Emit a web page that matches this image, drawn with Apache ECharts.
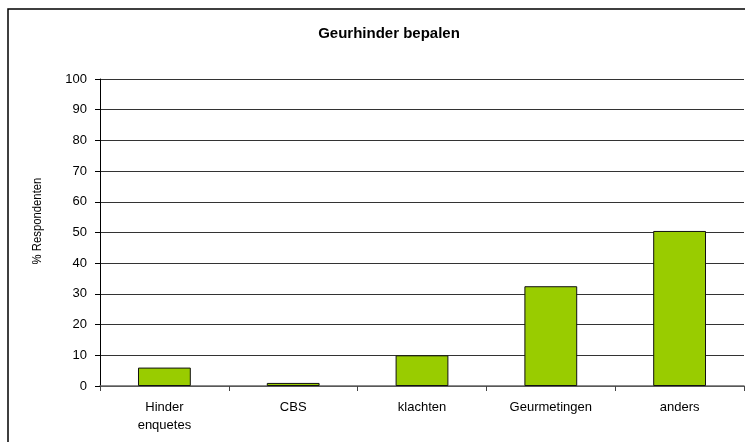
<!DOCTYPE html>
<html>
<head>
<meta charset="utf-8">
<script src="https://cdn.jsdelivr.net/npm/echarts@6/dist/echarts.min.js"></script>
<style>
html,body{margin:0;padding:0;background:#fff;}
#chart{width:745px;height:442px;}
</style>
</head>
<body>
<div id="chart"></div>
<script>
// categorieen en waarden (geschat uit de afbeelding)
var categories = ['Hinder\nenquetes', 'CBS', 'klachten', 'Geurmetingen', 'anders'];
var values = [6, 1, 10, 32.5, 50.5];
var yTicks = [0, 10, 20, 30, 40, 50, 60, 70, 80, 90, 100];

var myChart = echarts.init(document.getElementById('chart'));
var option = {
	backgroundColor: '#fff',
	animation: false,
	title: {
		text: 'Geurhinder bepalen',
		left: 384,
		top: 21,
		textAlign: 'center',
		textStyle: {fontFamily: 'Liberation Sans', fontSize: 15, fontWeight: 'bold', color: '#000'}
	},
	graphic: [
		{type: 'rect', shape: {x: 8, y: 9, width: 800, height: 500}, style: {fill: 'none', stroke: '#000', lineWidth: 1.5}, silent: true},
		// y-as titel (smal lettertype nagebootst)
		{type: 'text', x: 37, y: 221, rotation: Math.PI / 2, scaleX: 0.87, silent: true,
			style: {text: '% Respondenten', fontFamily: 'Liberation Sans', fontSize: 13, fill: '#000', align: 'center', verticalAlign: 'middle'}}
	],
	grid: {left: 100, right: 1, top: 79, bottom: 56, containLabel: false},
	xAxis: {
		type: 'category',
		data: categories,
		axisLine: {lineStyle: {color: '#666', width: 1.5}},
		axisTick: {show: true, alignWithLabel: false, length: 5, lineStyle: {color: '#444'}},
		axisLabel: {interval: 0, margin: 12, lineHeight: 18, fontFamily: 'Liberation Sans', fontSize: 13, color: '#000'}
	},
	yAxis: {
		type: 'value',
		min: yTicks[0],
		max: yTicks[yTicks.length - 1],
		interval: 10,
		axisLine: {show: true, lineStyle: {color: '#000', width: 1}},
		axisTick: {show: true, length: 5, lineStyle: {color: '#000'}},
		axisLabel: {margin: 13, fontFamily: 'Liberation Sans', fontSize: 13, color: '#000'},
		splitLine: {show: true, lineStyle: {color: '#333', width: 1}}
	},
	series: [{
		type: 'bar',
		data: values,
		barWidth: '41%',
		itemStyle: {color: '#99cc00', borderColor: '#111', borderWidth: 1}
	}]
};
myChart.setOption(option);
</script>
</body>
</html>
